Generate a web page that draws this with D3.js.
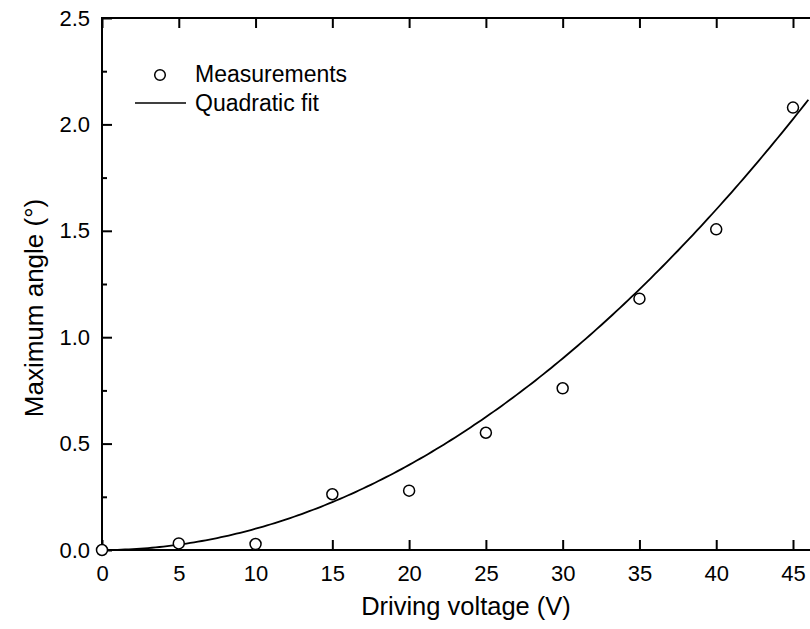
<!DOCTYPE html>
<html lang="en">
<head>
  <meta charset="UTF-8" />
  <title>Maximum angle vs driving voltage</title>
  <script src="https://d3js.org/d3.v7.min.js"></script>
  <style>
    html, body {
      margin: 0;
      padding: 0;
      background: #fff;
      overflow: hidden;
    }
    svg {
      display: block;
      font-family: 'Liberation Sans', Arial, sans-serif;
    }
  </style>
</head>
<body>
  <svg width="810" height="629"></svg>

  <script>
    // measurement data
    const voltages = [0, 5, 10, 15, 20, 25, 30, 35, 40, 45];
    const angles = [0.0, 0.031, 0.028, 0.262, 0.279, 0.551, 0.76, 1.181, 1.507, 2.079];
    // quadratic fit coefficients: angle = a*V^2 + b*V + c
    const fitA = 0.001;
    const fitB = 0.0;
    const fitC = 0.0;
    const xTicks = [0, 5, 10, 15, 20, 25, 30, 35, 40, 45];
    const yTicks = [0.0, 0.5, 1.0, 1.5, 2.0, 2.5];
    const yMinorTicks = [0.25, 0.75, 1.25, 1.75, 2.25];

    const svg = d3.select("svg");
    const mLeft = 102, mTop = 18, mBottom = 550;

    const x = d3.scaleLinear().domain([0, 45]).range([mLeft, 793]);
    const y = d3.scaleLinear().domain([0, 2.5]).range([mBottom, mTop]);
    const xMax = x.invert(812);

    // bottom axis
    const bottomAxis = svg.append("g")
      .attr("transform", `translate(0,${mBottom})`)
      .call(d3.axisBottom(x).tickValues(xTicks).tickFormat(d3.format("d"))
        .tickSizeInner(-10).tickSizeOuter(0).tickPadding(15));

    // top axis (mirror, no labels)
    const topAxis = svg.append("g")
      .attr("transform", `translate(0,${mTop})`)
      .call(d3.axisTop(x).tickValues(xTicks).tickFormat("")
        .tickSizeInner(-10).tickSizeOuter(0));

    // left axis
    const leftAxis = svg.append("g")
      .attr("transform", `translate(${mLeft},0)`)
      .call(d3.axisLeft(y).tickValues(yTicks).tickFormat(d3.format(".1f"))
        .tickSizeInner(-10).tickSizeOuter(0).tickPadding(12));

    svg.append("g")
      .attr("transform", `translate(${mLeft},0)`)
      .call(d3.axisLeft(y).tickValues(yMinorTicks).tickFormat("")
        .tickSizeInner(-5).tickSizeOuter(0))
      .select(".domain").remove();

    [bottomAxis, topAxis, leftAxis].forEach(g => g.select(".domain").remove());

    // axis lines (extend past visible frame on the right)
    svg.append("line").attr("x1", mLeft).attr("x2", 812).attr("y1", mBottom).attr("y2", mBottom);
    svg.append("line").attr("x1", mLeft).attr("x2", 812).attr("y1", mTop).attr("y2", mTop);
    svg.append("line").attr("x1", mLeft).attr("x2", mLeft).attr("y1", mTop - 1).attr("y2", mBottom + 1);
    svg.selectAll("line").attr("stroke", "#000").attr("stroke-width", 2);

    svg.selectAll(".tick text")
      .attr("fill", "#000")
      .style("font-size", "22px");

    // fit curve
    const fitPts = d3.range(0, xMax + 0.01, 0.25).map(v => [v, fitA * v * v + fitB * v + fitC]);
    svg.append("path")
      .datum(fitPts)
      .attr("fill", "none")
      .attr("stroke", "#000")
      .attr("stroke-width", 1.8)
      .attr("d", d3.line().x(d => x(d[0])).y(d => y(d[1])));

    // measurement points
    svg.append("g")
      .selectAll("circle")
      .data(voltages.map((v, i) => [v, angles[i]]))
      .enter()
      .append("circle")
      .attr("cx", d => x(d[0]))
      .attr("cy", d => y(d[1]))
      .attr("r", 5.5)
      .attr("fill", "#fff")
      .attr("stroke", "#000")
      .attr("stroke-width", 1.5);

    // legend
    const legend = svg.append("g");
    legend.append("circle")
      .attr("cx", 160).attr("cy", 75).attr("r", 5.3)
      .attr("fill", "#fff").attr("stroke", "#000").attr("stroke-width", 1.5);
    legend.append("text")
      .attr("x", 195).attr("y", 82)
      .style("font-size", "23px")
      .text("Measurements");
    legend.append("line")
      .attr("x1", 135).attr("x2", 186).attr("y1", 103).attr("y2", 103)
      .attr("stroke", "#000").attr("stroke-width", 1.5);
    legend.append("text")
      .attr("x", 195).attr("y", 111)
      .style("font-size", "23px")
      .text("Quadratic fit");

    // axis titles
    svg.append("text")
      .attr("x", 466).attr("y", 615)
      .attr("text-anchor", "middle")
      .style("font-size", "25.5px")
      .text("Driving voltage (V)");

    svg.append("text")
      .attr("transform", "translate(43,308) rotate(-90)")
      .attr("text-anchor", "middle")
      .style("font-size", "26px")
      .text("Maximum angle (\u00B0)");
  </script>
</body>
</html>
